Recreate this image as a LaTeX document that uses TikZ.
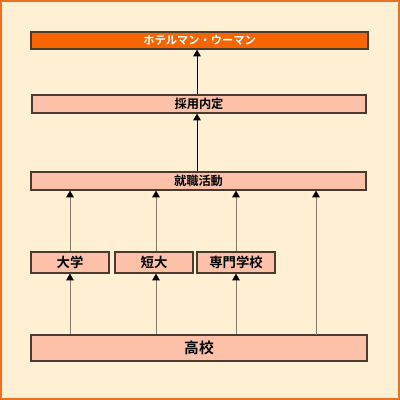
\documentclass[tikz,border=0pt]{standalone}
\usepackage{fontspec}
\newfontfamily\jpfont{Noto Sans CJK JP}[BoldFont={* Bold}]
\usetikzlibrary{arrows.meta}
\usetikzlibrary{shadows}
\definecolor{bgcream}{HTML}{FFEFD3}
\definecolor{frameorange}{HTML}{F27023}
\definecolor{goalorange}{HTML}{F76500}
\definecolor{stepsalmon}{HTML}{FCC1A8}
\definecolor{edgebrown}{HTML}{4A3B30}
\definecolor{linkgray}{HTML}{857A6C}
\tikzset{
  x = 0.025cm,
  y = -0.025cm,
  >={Triangle[length=1.7mm,width=1.9mm,color=black]},
  stagebox/.style = {draw=edgebrown, line width=0.3mm, fill=stepsalmon,
    inner sep=0pt, font=\jpfont\bfseries\fontsize{8.7}{8.7}\selectfont,
    drop shadow={shadow xshift=0.25mm, shadow yshift=-0.25mm, fill=gray!55}},
  goalbox/.style = {stagebox, fill=goalorange, text=white,
    font=\jpfont\bfseries\fontsize{8}{8}\selectfont},
  schoolbox/.style = {stagebox, minimum width=1.95cm, minimum height=0.525cm,
    font=\jpfont\bfseries\fontsize{9.5}{9.5}\selectfont},
  link/.style = {->, draw=linkgray, line width=0.25mm},
}

\begin{document}
\begin{tikzpicture}
    \draw [frameorange, fill=bgcream, line width=0.5mm] (1,1) rectangle (399,399);
    \useasboundingbox (0,0) rectangle (400,400);
    \node [goalbox, minimum width=8.425cm, minimum height=0.425cm] (hotel) at (199.5,40.5) {ホテルマン・ウーマン};
    \node [stagebox, minimum width=8.35cm, minimum height=0.45cm] (saiyo) at (199,104) {採用内定};
    \node [stagebox, minimum width=8.375cm, minimum height=0.45cm] (shushoku) at (198.5,181) {就職活動};
    \node [schoolbox] (daigaku) at (70,262.5) {大学};
    \node [schoolbox] (tandai) at (154,262.5) {短大};
    \node [schoolbox] (senmon) at (236,262.5) {専門学校};
    \node [stagebox, minimum width=8.4cm, minimum height=0.65cm,
      font=\jpfont\bfseries\fontsize{10.5}{10.5}\selectfont] (koko) at (199,348) {高校};
    \coordinate (direct) at (316,335);
    \draw [link, draw=black] (saiyo.north -| 197,0) -- (hotel.south -| 197,0);
    \draw [link, draw=black] (shushoku.north -| 197,0) -- (saiyo.south -| 197,0);
    \draw [link] (daigaku.south |- koko.north) -- (daigaku.south);
    \draw [link] ([xshift=0.05cm]tandai.south |- koko.north) -- ([xshift=0.05cm]tandai.south);
    \draw [link] (senmon.south |- koko.north) -- (senmon.south);
    \draw [link] (daigaku.north) -- (daigaku.north |- shushoku.south);
    \draw [link] ([xshift=0.05cm]tandai.north) -- ([xshift=0.05cm]tandai.north |- shushoku.south);
    \draw [link] (senmon.north) -- (senmon.north |- shushoku.south);
    \draw [link] (direct) -- (direct |- shushoku.south);
  \end{tikzpicture}
\end{document}
